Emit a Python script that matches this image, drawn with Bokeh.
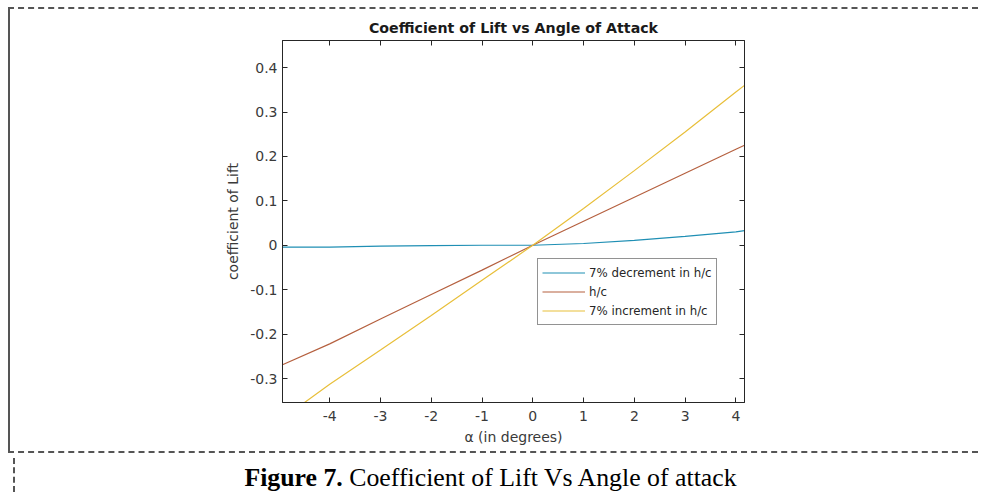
from bokeh.plotting import figure
from bokeh.models import Range1d, FixedTicker, LinearAxis, Legend, LegendItem, Div
from bokeh.layouts import column
from bokeh.embed import file_html
from bokeh.resources import INLINE

# ---- data ----
alpha_deg = [-4.93, -4, -3, -2, -1, 0, 1, 2, 3, 4, 4.17]
cl_decrement = [-0.004, -0.004, -0.002, -0.001, 0.0, 0.0, 0.004, 0.011, 0.020, 0.030, 0.033]
cl_nominal = [-0.269, -0.222, -0.166, -0.111, -0.056, 0.0, 0.054, 0.108, 0.162, 0.216, 0.225]
cl_increment = [-0.390, -0.313, -0.236, -0.158, -0.079, 0.0, 0.083, 0.168, 0.255, 0.345, 0.360]
series_labels = ["7% decrement in h/c", "h/c", "7% increment in h/c"]
x_ticks = [-4, -3, -2, -1, 0, 1, 2, 3, 4]
y_ticks = [-0.3, -0.2, -0.1, 0, 0.1, 0.2, 0.3, 0.4]
y_tick_labels = ["-0.3", "-0.2", "-0.1", "0", "0.1", "0.2", "0.3", "0.4"]
x_tick_labels = ["-4", "-3", "-2", "-1", "0", "1", "2", "3", "4"]
title_text = "Coefficient of Lift vs Angle of Attack"
x_label = "α (in degrees)"
y_label = "coefficient of Lift"
caption_bold = "Figure 7."
caption_rest = "Coefficient of Lift Vs Angle of attack"

colors = ["#1f8fb4", "#b5603f", "#e8bf3a"]
AX = "#262626"
TXT = "#3a3a3a"
FONT = "DejaVu Sans"

W = 970
H = 446

p = figure(width=W, height=H,
           x_range=Range1d(-4.93, 4.17), y_range=Range1d(-0.354, 0.461),
           output_backend="svg", toolbar_location=None,
           min_border_left=272, min_border_right=236,
           min_border_top=31, min_border_bottom=53,
           styles={"border-top": "2px dashed #555555",
                   "border-left": "2px solid #555555",
                   "border-bottom": "2px dashed #555555"})

p.grid.visible = False
p.outline_line_color = AX
p.outline_line_width = 1
p.background_fill_color = "white"
p.border_fill_color = "white"

p.title.text = title_text
p.title.align = "center"
p.title.text_font = FONT
p.title.text_font_size = "14.2px"
p.title.text_font_style = "bold"
p.title.text_color = "#1a1a1a"
p.title.standoff = 9


def style_axis(ax, ticks, labels, show_labels=True):
    ax.ticker = FixedTicker(ticks=ticks)
    ax.major_tick_in = 5
    ax.major_tick_out = 0
    ax.minor_tick_in = 0
    ax.minor_tick_out = 0
    ax.axis_line_color = AX
    ax.major_tick_line_color = AX
    ax.major_label_text_font = FONT
    if show_labels:
        ax.major_label_overrides = {t: l for t, l in zip(ticks, labels)}
        ax.major_label_text_font_size = "14px"
        ax.major_label_text_color = TXT
    else:
        ax.major_label_overrides = {t: "" for t in ticks}
        ax.major_label_text_color = None
        ax.major_label_standoff = 0


style_axis(p.xaxis[0], x_ticks, x_tick_labels)
style_axis(p.yaxis[0], y_ticks, y_tick_labels)
p.xaxis.major_label_standoff = 8
p.yaxis.major_label_standoff = 5
p.xaxis.axis_label = x_label
p.yaxis.axis_label = y_label
for ax in (p.xaxis[0], p.yaxis[0]):
    ax.axis_label_text_font = FONT
    ax.axis_label_text_font_style = "normal"
    ax.axis_label_text_color = TXT
    ax.axis_label_text_font_size = "14px"
p.xaxis.axis_label_standoff = 5
p.yaxis.axis_label_standoff = 6

top_ax = LinearAxis()
style_axis(top_ax, x_ticks, x_tick_labels, show_labels=False)
p.add_layout(top_ax, "above")
right_ax = LinearAxis()
style_axis(right_ax, y_ticks, y_tick_labels, show_labels=False)
p.add_layout(right_ax, "right")

r1 = p.line(alpha_deg, cl_decrement, line_color=colors[0], line_width=1.2)
r2 = p.line(alpha_deg, cl_nominal, line_color=colors[1], line_width=1.2)
r3 = p.line(alpha_deg, cl_increment, line_color=colors[2], line_width=1.2)

legend = Legend(items=[LegendItem(label=series_labels[0], renderers=[r1]),
                       LegendItem(label=series_labels[1], renderers=[r2]),
                       LegendItem(label=series_labels[2], renderers=[r3])],
                location=(255, 77))
legend.border_line_color = AX
legend.border_line_width = 1
legend.background_fill_color = "white"
legend.background_fill_alpha = 1
legend.padding = 4
legend.spacing = 0
legend.margin = 0
legend.label_height = 19
legend.glyph_height = 19
legend.glyph_width = 43
legend.label_standoff = 4
legend.label_text_font = FONT
legend.label_text_font_size = "11.8px"
legend.label_text_color = AX
p.add_layout(legend)

# ---- caption strip ----
cap = Div(text="<b>%s</b> %s" % (caption_bold, caption_rest),
          width=W, height=34,
          styles={"border-left": "2px dashed #555555",
                  "font-family": "'Liberation Serif', serif",
                  "font-size": "25.8px",
                  "color": "black",
                  "text-align": "center",
                  "line-height": "30px",
                  "padding-top": "5px",
                  "box-sizing": "border-box",
                  "padding-right": "17px"})

layout = column(p, cap, spacing=0, styles={"margin-left": "8px", "margin-top": "7px"})
open("out.html", "w").write(file_html(layout, INLINE))
